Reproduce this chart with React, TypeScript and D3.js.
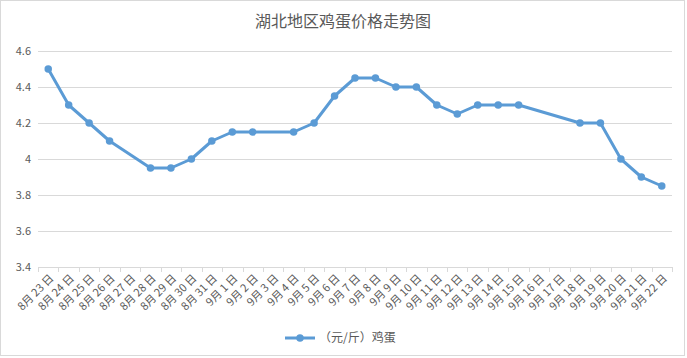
import React from "react";
import * as d3 from "d3";

const categories: string[] = [
  "8月 23 日","8月 24 日","8月 25 日","8月 26 日","8月 27 日","8月 28 日","8月 29 日","8月 30 日","8月 31 日",
  "9月 1 日","9月 2 日","9月 3 日","9月 4 日","9月 5 日","9月 6 日","9月 7 日","9月 8 日","9月 9 日","9月 10 日",
  "9月 11 日","9月 12 日","9月 13 日","9月 14 日","9月 15 日","9月 16 日","9月 17 日","9月 18 日","9月 19 日",
  "9月 20 日","9月 21 日","9月 22 日",
];
const eggPrices: (number | null)[] = [
  4.5, 4.3, 4.2, 4.1, null, 3.95, 3.95, 4.0, 4.1,
  4.15, 4.15, null, 4.15, 4.2, 4.35, 4.45, 4.45, 4.4, 4.4,
  4.3, 4.25, 4.3, 4.3, 4.3, null, null, 4.2, 4.2,
  4.0, 3.9, 3.85,
];
const yTicks: number[] = [3.4, 3.6, 3.8, 4, 4.2, 4.4, 4.6];
const seriesName = "（元/斤）鸡蛋";
const title = "湖北地区鸡蛋价格走势图";

const W = 687, H = 358;
const FONT = "'Noto Sans CJK SC', 'Microsoft YaHei', sans-serif";
const TEXT = "#595959";
const GRID = "#d9d9d9";
const BLUE = "#5b9bd5";

export default function App() {
  const left = 38, right = 672, top = 51, bottom = 267;
  const x = d3.scaleBand<string>().domain(categories).range([left, right]);
  const y = d3.scaleLinear().domain([3.4, 4.6]).range([bottom, top]);
  const cx = (c: string) => (x(c) as number) + x.bandwidth() / 2;

  const pts = categories
    .map((c, i) => ({ c, v: eggPrices[i] }))
    .filter((p) => p.v !== null) as { c: string; v: number }[];
  const line = d3.line<{ c: string; v: number }>().x((p) => cx(p.c)).y((p) => y(p.v));

  const boundaries = d3.range(categories.length + 1).map((i) => left + i * x.step());

  return (
    <svg width={W} height={H} style={{ position: "absolute", left: 0, top: 0 }} fontFamily={FONT}>
      <rect x={0.5} y={0.5} width={684} height={355} fill="#fff" stroke={GRID} />
      <text x={343} y={27} textAnchor="middle" fontSize={16} fill={TEXT}>{title}</text>
      {yTicks.map((t) => (
        <g key={t}>
          <line x1={left} x2={right} y1={Math.round(y(t)) + 0.5} y2={Math.round(y(t)) + 0.5} stroke={GRID} />
          <text x={31} y={y(t) + 4} textAnchor="end" fontSize={11} fill={TEXT}>{d3.format("")(t)}</text>
        </g>
      ))}
      {boundaries.map((bx, i) => (
        <line key={i} x1={Math.round(bx) + 0.5} x2={Math.round(bx) + 0.5} y1={bottom} y2={bottom + 5} stroke={GRID} />
      ))}
      {categories.map((c) => (
        <text
          key={c}
          transform={`translate(${cx(c) + 6},${bottom + 12}) rotate(-45)`}
          textAnchor="end"
          fontSize={11}
          fill={TEXT}
        >{c}</text>
      ))}
      <path d={line(pts) ?? ""} fill="none" stroke={BLUE} strokeWidth={3} strokeLinejoin="round" />
      {pts.map((p) => (
        <circle key={p.c} cx={cx(p.c)} cy={y(p.v)} r={3.75} fill={BLUE} />
      ))}
      <g>
        <line x1={285} x2={315} y1={338} y2={338} stroke={BLUE} strokeWidth={3} />
        <circle cx={300} cy={338} r={3.75} fill={BLUE} />
        <text x={319} y={342} fontSize={12} fill={TEXT}>{seriesName}</text>
      </g>
    </svg>
  );
}
